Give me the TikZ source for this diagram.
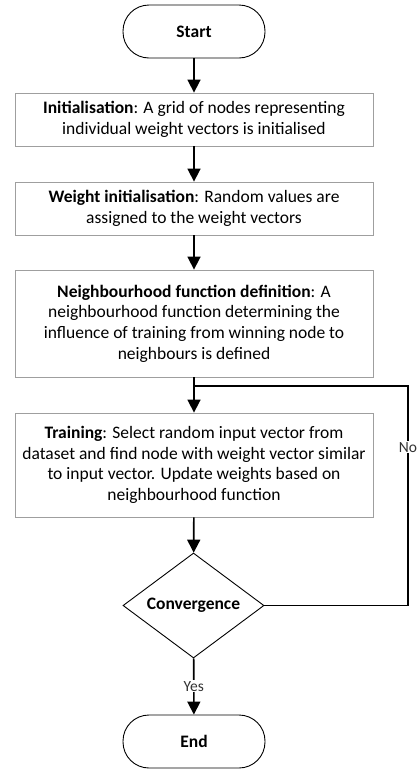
\documentclass[tikz,border=0pt]{standalone}
\usepackage{fontspec}
\setmainfont{Carlito}
\usetikzlibrary{shapes.geometric,arrows.meta}
\begin{document}
\begin{tikzpicture}[x=1pt,y=1pt,
  every node/.style={font=\fontsize{17.5}{20.7}\selectfont},
  term/.style={draw=black,line width=0.9pt,rounded corners=26pt,minimum width=142pt,minimum height=53pt,inner sep=0pt},
  procbox/.style={draw=gray!75,line width=0.8pt,minimum width=358pt,align=center,inner sep=0pt},
  decide/.style={draw=black,line width=0.9pt,diamond,minimum width=141pt,minimum height=105pt,inner sep=0pt,aspect=1.34},
  flow/.style={line width=1.6pt,-{Triangle[length=13pt,width=13pt]}},
  lbl/.style={fill=white,text=black!80,inner sep=1pt,font=\fontsize{15.5}{17}\selectfont}
]
\useasboundingbox (0,0) rectangle (418,-769);
\node[term] (start) at (194,-31.5) {\textbf{Start}};
\node[procbox,minimum height=53pt] (b1) at (194,-119.5) {\textbf{Initialisation}: A grid of nodes representing\\individual weight vectors is initialised};
\node[procbox,minimum height=53pt] (b2) at (194,-208.5) {\textbf{Weight initialisation}: Random values are\\assigned to the weight vectors};
\node[procbox,minimum height=107pt] (b3) at (194,-323.5) {\textbf{Neighbourhood function definition}: A\\neighbourhood function determining the\\influence of training from winning node to\\neighbours is defined};
\node[procbox,minimum height=104pt] (b4) at (194,-465) {\textbf{Training}: Select random input vector from\\dataset and find node with weight vector similar\\to input vector. Update weights based on\\neighbourhood function};
\node[decide] (conv) at (193.5,-605.5) {\textbf{Convergence}};
\node[term] (end) at (194,-741.5) {\textbf{End}};
\coordinate (j) at (194,-386);
\coordinate (r1) at (408,-386);
\coordinate (r2) at (408,-605.5);
\draw[flow] (start) -- (b1);
\draw[flow] (b1) -- (b2);
\draw[flow] (b2) -- (b3);
\draw[flow] (b3) -- (b4);
\draw[flow] (b4) -- (conv);
\draw[flow] (conv) -- node[lbl] (yes) {Yes} (end);
\draw[line width=1.6pt] (conv.east) -- (r2) -- node[lbl,pos=0.72] (no) {No} (r1) -- (j);
\end{tikzpicture}
\end{document}
